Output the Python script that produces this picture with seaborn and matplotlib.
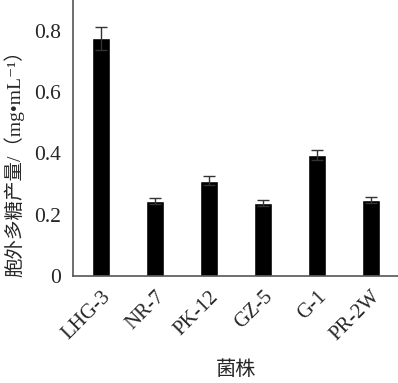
import matplotlib
matplotlib.use("Agg")
import matplotlib.pyplot as plt
import seaborn as sns
import pandas as pd
import numpy as np

strains = ["LHG-3", "NR-7", "PK-12", "GZ-5", "G-1", "PR-2W"]
values = [0.775, 0.245, 0.311, 0.238, 0.394, 0.248]
errors = [0.038, 0.011, 0.014, 0.010, 0.017, 0.011]
yticks = [0, 0.2, 0.4, 0.6, 0.8]
ytick_labels = ["0", "0.2", "0.4", "0.6", "0.8"]

sns.set_style("white")
plt.rcParams["font.family"] = ["Liberation Serif", "Noto Sans CJK SC", "DejaVu Sans"]

df = pd.DataFrame({"strain": strains, "value": values})

fig = plt.figure(figsize=(3.98, 3.83), dpi=100)
ax = fig.add_axes([0.184, 0.279, 0.816, 0.721])

sns.barplot(data=df, x="strain", y="value", color="black", width=0.33,
            errorbar=None, ax=ax, saturation=1)
ax.errorbar(x=np.arange(len(strains)), y=values, yerr=errors, fmt="none",
            ecolor="#333333", elinewidth=1.0, capsize=4, capthick=1.0)

ax.set_xlim(-0.51, 5.5)
ax.set_ylim(0, 0.9)
ax.set_yticks(yticks)
ax.set_yticklabels(ytick_labels, fontsize=15.5)
ax.set_xticks(range(len(strains)))
ax.set_xticklabels(strains, rotation=45, ha="right", rotation_mode="anchor", fontsize=15)
ax.tick_params(axis="y", direction="in", length=4, width=1, color="#555555", pad=9)
ax.tick_params(axis="x", length=0, pad=8)

for s in ["top", "right"]:
    ax.spines[s].set_visible(False)
for s in ["left", "bottom"]:
    ax.spines[s].set_color("#555555")
    ax.spines[s].set_linewidth(1.2)

ax.set_xlabel("菌株", fontsize=14.5, family=["Noto Sans CJK SC", "DejaVu Sans"], labelpad=10)
ax.set_ylabel("胞外多糖产量/（mg•mL⁻¹）", fontsize=14,
              family=["Liberation Serif", "Noto Sans CJK SC", "DejaVu Sans"])
ax.yaxis.set_label_coords(-0.15, 0.427)

fig.savefig("out.png", dpi=100)
